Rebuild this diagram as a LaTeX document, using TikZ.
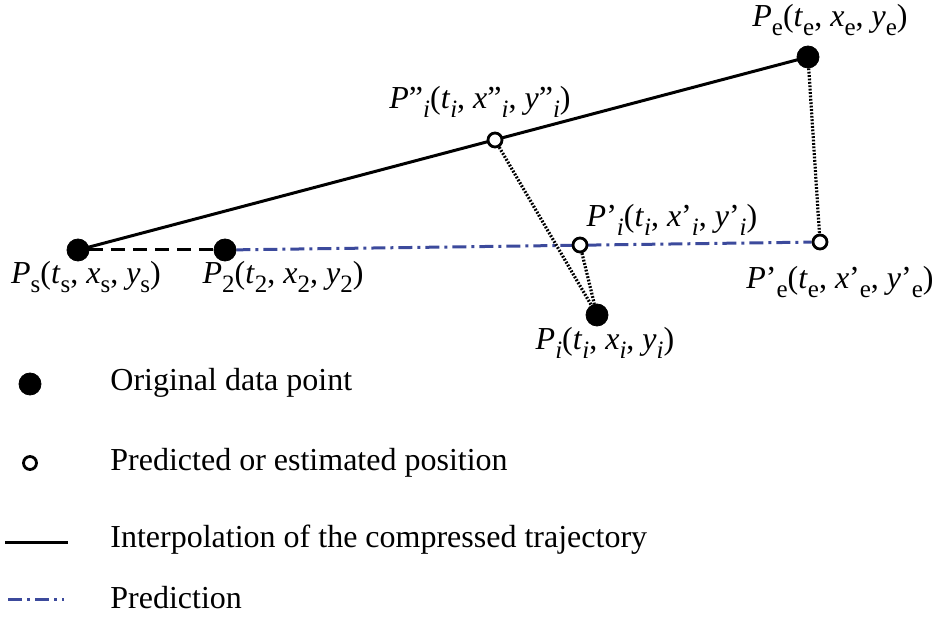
\documentclass[tikz,border=0pt]{standalone}
\usepackage{fontspec}
\setmainfont{Liberation Serif}
\usepackage{tikz}
\usetikzlibrary{backgrounds}
\definecolor{predblue}{RGB}{60, 74, 156}

% lowered subscript, as in the drawing
\newcommand{\lowsub}[1]{\raisebox{-4.5pt}{\fontsize{12.5}{13}\selectfont #1}}
% point label: italic letter with subscript
\newcommand{\ptsub}[2]{\textit{#1}\lowsub{#2}}

\begin{document}
\begin{tikzpicture}[
  x=0.5pt, y=-0.5pt,
  every node/.style={font=\fontsize{16}{19}\selectfont},
  dot/.style={circle, fill=black, draw=black, minimum size=11pt, inner sep=0pt},
  ring/.style={circle, fill=white, draw=black, line width=1.4pt, minimum size=7pt, inner sep=0pt},
  interp/.style={line width=1.5pt, black},
  gap/.style={line width=1.5pt, black, dash pattern=on 7pt off 4pt},
  pred/.style={line width=1.5pt, predblue, dash pattern=on 7pt off 2.5pt on 1.5pt off 2.5pt},
  proj/.style={line width=1.6pt, black, dash pattern=on 0.9pt off 0.8pt},
  lbl/.style={inner sep=1pt},
  legend/.style={anchor=west, inner sep=0pt}
]
  \useasboundingbox (0,0) rectangle (943,619);

  % Punti della traiettoria
  \node[dot] (ps) at (78, 250) {};
  \node[dot] (p2) at (225, 250) {};
  \node[dot] (pe) at (808, 57) {};
  \node[dot] (pi) at (597, 315) {};
  \node[ring] (pii) at (495, 140) {};
  \node[ring] (pip) at (580, 245) {};
  \node[ring] (pep) at (820, 242) {};

  % Etichette
  \node[lbl] (lps) at (86, 277) {\ptsub{P}{s}(\ptsub{t}{s}, \ptsub{x}{s}, \ptsub{y}{s})};
  \node[lbl] (lp2) at (283, 277) {\ptsub{P}{2}(\ptsub{t}{2}, \ptsub{x}{2}, \ptsub{y}{2})};
  \node[lbl] (lpe) at (830, 20) {\ptsub{P}{e}(\ptsub{t}{e}, \ptsub{x}{e}, \ptsub{y}{e})};
  \node[lbl] (lpii) at (480, 102) {\textit{P}”\lowsub{\textit{i}}(\ptsub{t}{\textit{i}}, \textit{x}”\lowsub{\textit{i}}, \textit{y}”\lowsub{\textit{i}})};
  \node[lbl] (lpip) at (672, 220) {\textit{P}’\lowsub{\textit{i}}(\ptsub{t}{\textit{i}}, \textit{x}’\lowsub{\textit{i}}, \textit{y}’\lowsub{\textit{i}})};
  \node[lbl] (lpep) at (840, 282) {\textit{P}’\lowsub{e}(\ptsub{t}{e}, \textit{x}’\lowsub{e}, \textit{y}’\lowsub{e})};
  \node[lbl] (lpi) at (605, 343) {\ptsub{P}{\textit{i}}(\ptsub{t}{\textit{i}}, \ptsub{x}{\textit{i}}, \ptsub{y}{\textit{i}})};

  % Linee
  \begin{pgfonlayer}{background}
    \draw[interp] (ps.center) -- (pe.center);
    \draw[gap] (ps) -- (p2);
    \draw[pred] (p2) -- (pep);
    \draw[proj] (pii) -- (pi);
    \draw[proj] (pip) -- (pi);
    \draw[proj] (pe) -- (pep);
  \end{pgfonlayer}

  % Legenda
  \node[dot] (kdot) at (30, 384) {};
  \node[legend] (tdot) at (110, 383) {Original data point};
  \node[ring, minimum size=6.5pt] (kring) at (30, 463) {};
  \node[legend] (tring) at (110, 463) {Predicted or estimated position};
  \coordinate (ka) at (5, 543);
  \coordinate (kb) at (68, 543);
  \draw[interp] (ka) -- (kb);
  \node[legend] (tinterp) at (110, 540) {Interpolation of the compressed trajectory};
  \coordinate (kc) at (8, 600);
  \coordinate (kd) at (64, 600);
  \draw[pred] (kc) -- (kd);
  \node[legend] (tpred) at (110, 598) {Prediction};

\end{tikzpicture}
\end{document}
